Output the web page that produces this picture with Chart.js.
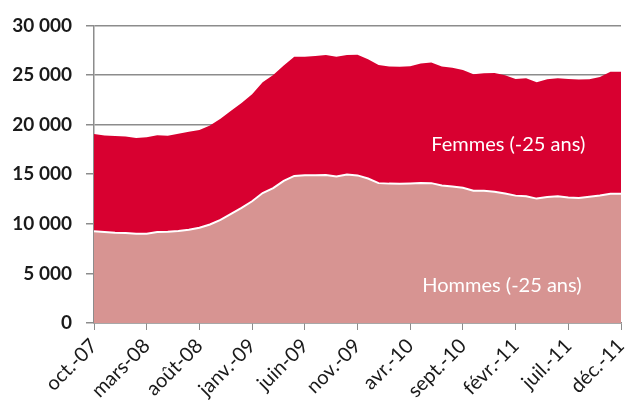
<!DOCTYPE html>
<html>
<head>
<meta charset="utf-8">
<script src="https://cdn.jsdelivr.net/npm/chart.js@4"></script>
<style>
  html, body { margin: 0; padding: 0; background: #fff; }
  #wrap { width: 625px; height: 401px; }
</style>
</head>
<body>
<div id="wrap"><canvas id="chart"></canvas></div>
<script>
// months oct-07 .. déc-11
var mois = [
    "oct.-07", "nov.-07", "déc.-07",
    "janv.-08", "févr.-08", "mars-08", "avr.-08", "mai-08", "juin-08",
    "juil.-08", "août-08", "sept.-08", "oct.-08", "nov.-08", "déc.-08",
    "janv.-09", "févr.-09", "mars-09", "avr.-09", "mai-09", "juin-09",
    "juil.-09", "août-09", "sept.-09", "oct.-09", "nov.-09", "déc.-09",
    "janv.-10", "févr.-10", "mars-10", "avr.-10", "mai-10", "juin-10",
    "juil.-10", "août-10", "sept.-10", "oct.-10", "nov.-10", "déc.-10",
    "janv.-11", "févr.-11", "mars-11", "avr.-11", "mai-11", "juin-11",
    "juil.-11", "août-11", "sept.-11", "oct.-11", "nov.-11", "déc.-11"
];

var hommes = [
    9250, 9170, 9100, 9070, 9000, 9000, 9170, 9200, 9270, 9400,
    9600, 9930, 10400, 11000, 11600, 12270, 13100, 13600, 14330, 14830,
    14900, 14900, 14920, 14770, 14970, 14880, 14560, 14100, 14050, 14030,
    14070, 14120, 14100, 13870, 13770, 13640, 13340, 13340, 13240, 13050,
    12840, 12770, 12540, 12690, 12770, 12640, 12600, 12720, 12850, 13040,
    13040
];

var femmes = [
    9800, 9730, 9750, 9730, 9650, 9720, 9750, 9680, 9810, 9880,
    9850, 9970, 10200, 10400, 10570, 10800, 11170, 11400, 11620, 12020,
    11950, 12020, 12100, 12070, 12050, 12150, 12040, 11920, 11800, 11810,
    11800, 12050, 12150, 11980, 11970, 11860, 11740, 11830, 11960, 11920,
    11760, 11900, 11730, 11880, 11910, 11960, 11940, 11850, 11950, 12300,
    12300
];

var y_ticks = [0, 5000, 10000, 15000, 20000, 25000, 30000];

var rouge = "#d80030";
var rose = "#d79492";
var gris = "#8c8c8c";

function fnum(v) {
    return String(v).replace(/\B(?=(\d{3})+(?!\d))/g, " ");
}

// white series names inside the areas
var etiquettes = {
    id: "etiquettes",
    afterDatasetsDraw: function(chart) {
        var ctx = chart.ctx;
        var x = chart.scales.x, y = chart.scales.y;
        ctx.save();
        ctx.fillStyle = "#fff";
        ctx.font = "20px Lato";
        ctx.textAlign = "center";
        ctx.textBaseline = "middle";
        ctx.fillText("Femmes (-25 ans)", x.getPixelForValue(39.3), y.getPixelForValue(17950));
        ctx.fillText("Hommes (-25 ans)", x.getPixelForValue(38.7), y.getPixelForValue(3750));
        ctx.restore();
    }
};

new Chart(document.getElementById("chart"), {
    type: "line",
    data: {
        labels: mois,
        datasets: [{
            label: "Hommes (-25 ans)",
            data: hommes,
            backgroundColor: rose,
            borderColor: "#fff",
            borderWidth: 2,
            fill: "origin",
            tension: 0,
            pointRadius: 0
        }, {
            label: "Femmes (-25 ans)",
            data: femmes,
            backgroundColor: rouge,
            borderColor: rouge,
            borderWidth: 0,
            fill: "-1",
            tension: 0,
            pointRadius: 0
        }]
    },
    options: {
        responsive: true,
        maintainAspectRatio: false,
        animation: false,
        layout: { padding: { top: 12, right: 4, left: 0, bottom: 0 } },
        plugins: {
            legend: { display: false },
            tooltip: { enabled: false }
        },
        scales: {
            x: {
                offset: false,
                afterBuildTicks: function(scale) {
                    scale.ticks = scale.ticks.filter(function(t) { return t.value % 5 === 0; });
                },
                afterFit: function(scale) {
                    scale.height = 78;
                    scale.paddingLeft = 0;
                    scale.paddingRight = 0;
                },
                grid: {
                    drawOnChartArea: false,
                    drawTicks: true,
                    tickLength: 7,
                    color: gris
                },
                border: { color: gris, width: 1.5 },
                ticks: {
                    autoSkip: false,
                    maxRotation: 45,
                    minRotation: 45,
                    padding: 4,
                    color: "#1a1a1a",
                    font: { family: "Lato", size: 20 }
                }
            },
            y: {
                stacked: true,
                min: 0,
                max: 30000,
                afterBuildTicks: function(scale) {
                    scale.ticks = y_ticks.map(function(v) { return { value: v }; });
                },
                afterFit: function(scale) { scale.width = 94; },
                grid: {
                    color: gris,
                    lineWidth: 1.5,
                    tickLength: 8
                },
                border: { color: gris, width: 1.5 },
                ticks: {
                    padding: 14,
                    color: "#1a1a1a",
                    font: { family: "Lato", size: 19, weight: "bold" },
                    callback: function(v) { return fnum(v); }
                }
            }
        }
    },
    plugins: [etiquettes]
});
</script>
</body>
</html>
